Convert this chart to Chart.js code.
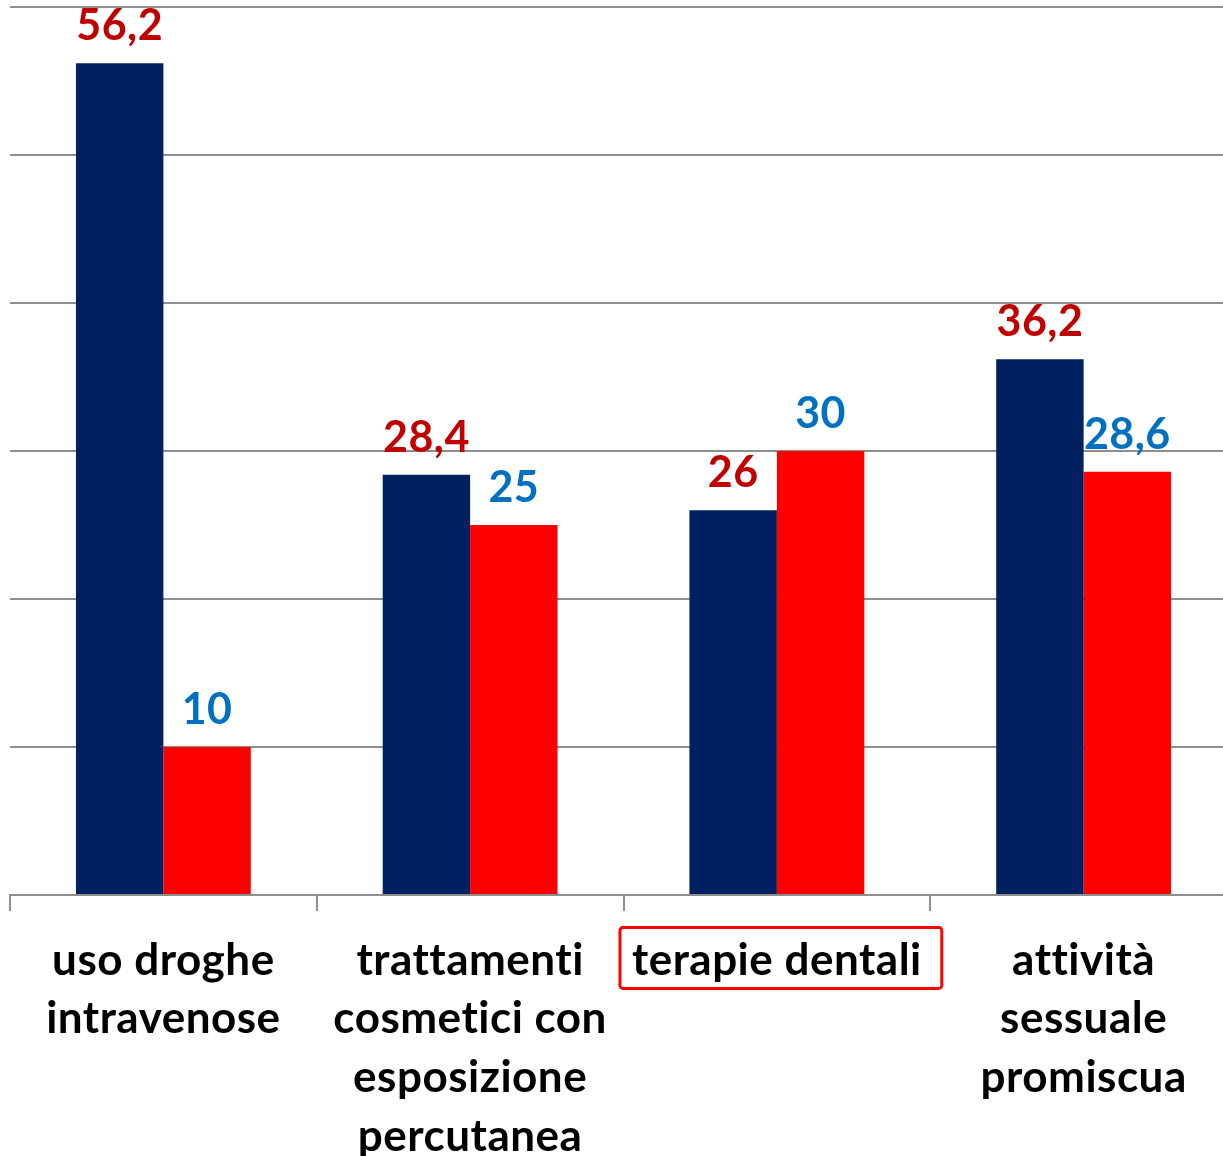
<!DOCTYPE html>
<html>
<head>
<meta charset="utf-8">
<script src="https://cdn.jsdelivr.net/npm/chart.js@4.4.0/dist/chart.umd.min.js"></script>
<style>
  html, body { margin: 0; padding: 0; background: #fff; overflow: hidden; }
  canvas { display: block; }
</style>
</head>
<body>
<canvas id="grafico" width="1237" height="1156"></canvas>
<script>
const categorie = [
    ['uso droghe', 'intravenose'],
    ['trattamenti', 'cosmetici con', 'esposizione', 'percutanea'],
    ['terapie dentali'],
    ['attività', 'sessuale', 'promiscua']
];
const serieBlu = [56.2, 28.4, 26, 36.2];
const serieRossa = [10, 25, 30, 28.6];
const tickY = [0, 10, 20, 30, 40, 50, 60];

const coloriEtichette = ['#C00000', '#0070C0'];
const fontValori = 'bold 43px Lato';
const fontAsse = 'bold 44px Lato';

// spaziatura minima: evita le legature di Lato (es. "tti")
const spaziatura = {
    id: 'spaziatura',
    beforeDraw(chart) {
        chart.ctx.letterSpacing = '0.5px';
    }
};

// etichette dei valori sopra le barre
const etichetteValori = {
    id: 'etichetteValori',
    afterDatasetsDraw(chart) {
        const ctx = chart.ctx;
        ctx.save();
        ctx.font = fontValori;
        ctx.textAlign = 'center';
        ctx.textBaseline = 'alphabetic';
        chart.data.datasets.forEach((ds, i) => {
            chart.getDatasetMeta(i).data.forEach((bar, j) => {
                ctx.fillStyle = coloriEtichette[i];
                ctx.fillText(String(ds.data[j]).replace('.', ','), bar.x, bar.y - 23);
            });
        });
        ctx.restore();
    }
};

// riquadro rosso attorno a "terapie dentali"
const riquadro = {
    id: 'riquadro',
    afterDraw(chart) {
        const asse = chart.scales.x;
        const ctx = chart.ctx;
        ctx.save();
        ctx.font = fontAsse;
        const w = ctx.measureText(categorie[2][0]).width;
        const cx = asse.getPixelForTick(2);
        const mid = asse.top + 16 + 20 + 58.8 / 2;
        ctx.strokeStyle = '#FF0000';
        ctx.lineWidth = 3;
        ctx.beginPath();
        ctx.roundRect(cx - w / 2 - 12, mid - 33, w + 32, 61, 3);
        ctx.stroke();
        ctx.restore();
    }
};

new Chart(document.getElementById('grafico'), {
    type: 'bar',
    data: {
        labels: categorie,
        datasets: [
            {
                label: 'A',
                data: serieBlu,
                backgroundColor: '#002060',
                categoryPercentage: 0.57,
                barPercentage: 1
            },
            {
                label: 'B',
                data: serieRossa,
                backgroundColor: '#FF0000',
                categoryPercentage: 0.57,
                barPercentage: 1
            }
        ]
    },
    options: {
        responsive: false,
        animation: false,
        layout: { padding: { top: 7, left: 0, right: 0, bottom: 0 } },
        plugins: {
            legend: { display: false },
            tooltip: { enabled: false }
        },
        scales: {
            x: {
                grid: {
                    drawOnChartArea: false,
                    drawTicks: true,
                    tickLength: 16,
                    color: '#8e8e8e',
                    lineWidth: 2
                },
                border: { color: '#8e8e8e', width: 2 },
                ticks: {
                    color: '#000',
                    padding: 20,
                    maxRotation: 0,
                    autoSkip: false,
                    font: { family: 'Lato', weight: 'bold', size: 44, lineHeight: 1.336 }
                },
                afterFit(scale) { scale.height = 1156 - 895; }
            },
            y: {
                min: 0,
                max: 60,
                afterBuildTicks(scale) { scale.ticks = tickY.map(v => ({ value: v })); },
                ticks: { display: false },
                border: { display: false },
                grid: { color: '#8e8e8e', lineWidth: 2, drawTicks: false },
                afterFit(scale) { scale.width = 10; }
            }
        }
    },
    plugins: [spaziatura, etichetteValori, riquadro]
});
</script>
</body>
</html>
